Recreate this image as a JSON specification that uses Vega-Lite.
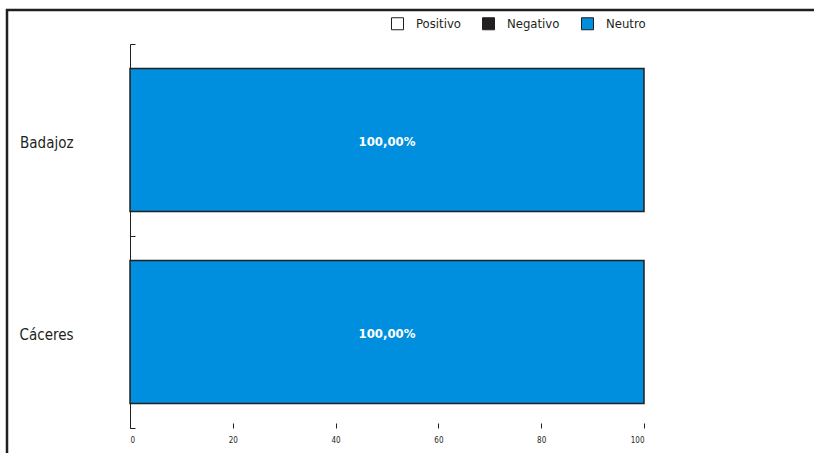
{
  "$schema": "https://vega.github.io/schema/vega-lite/v6.json",
  "autosize": "none",
  "width": 820,
  "height": 460,
  "padding": {"left": 7, "top": 10, "right": 0, "bottom": 0},
  "background": "white",
  "config": {
    "view": {"stroke": "#231f20", "strokeWidth": 2.5},
    "font": "Liberation Sans Narrow, DejaVu Sans Condensed, sans-serif"
  },
  "data": {
    "values": [
      {"provincia": "Badajoz", "sentimiento": "Neutro", "porcentaje": 100, "etiqueta": "100,00%"},
      {"provincia": "Cáceres", "sentimiento": "Neutro", "porcentaje": 100, "etiqueta": "100,00%"}
    ]
  },
  "encoding": {
    "y": {
      "field": "provincia",
      "type": "nominal",
      "sort": ["Badajoz", "Cáceres"],
      "scale": {"range": [34, 418], "paddingInner": 0, "paddingOuter": 0},
      "axis": {
        "title": null,
        "orient": "left",
        "offset": -123,
        "tickBand": "extent",
        "tickSize": -5,
        "tickColor": "#231f20",
        "tickWidth": 1,
        "domainColor": "#231f20",
        "domainWidth": 1,
        "labelPadding": 62,
        "labelFontSize": 15,
        "labelColor": "#231f20",
        "labelAlign": "right",
        "labelBaseline": "middle",
        "labelOffset": 2,
        "grid": false
      }
    }
  },
  "layer": [
    {
      "mark": {"type": "bar", "height": {"band": 0.745}, "stroke": "#231f20", "strokeWidth": 1.5},
      "encoding": {
        "x": {
          "field": "porcentaje",
          "type": "quantitative",
          "scale": {"domain": [0, 100], "range": [123, 637], "nice": false},
          "axis": {
            "title": null,
            "orient": "bottom",
            "offset": -47,
            "values": [0, 20, 40, 60, 80, 100],
            "domain": false,
            "grid": false,
            "tickSize": 5,
            "tickColor": "#231f20",
            "tickWidth": 1,
            "labelFontSize": 8,
            "labelColor": "#231f20",
            "labelPadding": 8
          }
        },
        "color": {
          "field": "sentimiento",
          "type": "nominal",
          "scale": {"domain": ["Positivo", "Negativo", "Neutro"], "range": ["#ffffff", "#231f20", "#008fde"]},
          "legend": {
            "title": null,
            "orient": "none",
            "direction": "horizontal",
            "legendX": 384,
            "legendY": 7,
            "symbolType": "square",
            "symbolSize": 144,
            "symbolStrokeColor": "#231f20",
            "symbolStrokeWidth": 1,
            "symbolOpacity": 1,
            "labelFontSize": 13,
            "labelColor": "#231f20",
            "labelOffset": 12,
            "columnPadding": 19
          }
        }
      }
    },
    {
      "mark": {"type": "text", "color": "white", "fontWeight": "bold", "fontSize": 13, "dy": 2},
      "encoding": {
        "x": {"datum": 50, "type": "quantitative"},
        "text": {"field": "etiqueta", "type": "nominal"}
      }
    }
  ]
}
